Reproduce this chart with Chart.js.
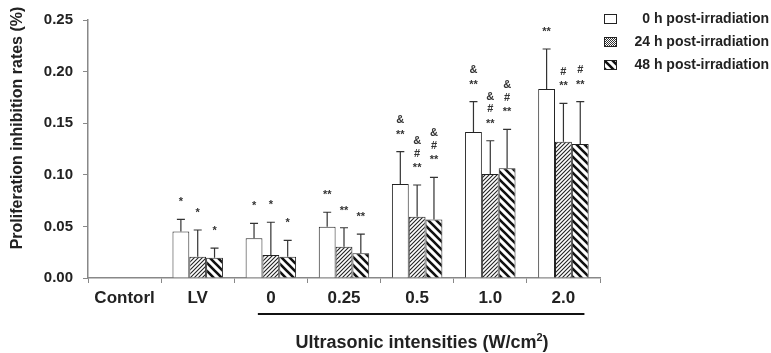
<!DOCTYPE html>
<html>
<head>
<meta charset="utf-8">
<script src="https://cdn.jsdelivr.net/npm/chart.js@4"></script>
<style>
  html, body { margin: 0; padding: 0; background: #fff; }
  #wrap { width: 771px; height: 353px; }
</style>
</head>
<body>
<div id="wrap"><canvas id="prolifChart" width="771" height="353"></canvas></div>
<script>
const categories = ['Contorl', 'LV', '0', '0.25', '0.5', '1.0', '2.0'];
const seriesNames = ['0 h post-irradiation', '24 h post-irradiation', '48 h post-irradiation'];

const mean0h = [null, 0.045, 0.0385, 0.0497, 0.0911, 0.1415, 0.1831];
const mean24h = [null, 0.0207, 0.0223, 0.0303, 0.0594, 0.1008, 0.1320];
const mean48h = [null, 0.0197, 0.0207, 0.0239, 0.0568, 0.1063, 0.1298];

// top of each error bar (mean + SD)
const err0h = [null, 0.0569, 0.0530, 0.0637, 0.1224, 0.1709, 0.2219];
const err24h = [null, 0.0465, 0.0540, 0.0487, 0.0901, 0.1330, 0.1693];
const err48h = [null, 0.0290, 0.0365, 0.0426, 0.0975, 0.1440, 0.1709];

// significance marks, listed top to bottom
const marks0h = [[], ['*'], ['*'], ['**'], ['&', '**'], ['&', '**'], ['**']];
const marks24h = [[], ['*'], ['*'], ['**'], ['&', '#', '**'], ['&', '#', '**'], ['#', '**']];
const marks48h = [[], ['*'], ['*'], ['**'], ['&', '#', '**'], ['&', '#', '**'], ['#', '**']];

const yTicks = [0, 0.05, 0.10, 0.15, 0.20, 0.25];

const FONT = "'Liberation Sans', Arial, sans-serif";

function makePattern(size, drawFn) {
  const c = document.createElement('canvas');
  c.width = size;
  c.height = size;
  const g = c.getContext('2d');
  g.fillStyle = '#fff';
  g.fillRect(0, 0, size, size);
  drawFn(g, size);
  return document.getElementById('prolifChart').getContext('2d').createPattern(c, 'repeat');
}

// fine "/" hatch for 24 h
const fineHatch = makePattern(4, (g, s) => {
  g.strokeStyle = '#222';
  g.lineWidth = 1.1;
  g.beginPath();
  g.moveTo(0, s); g.lineTo(s, 0);
  g.moveTo(-1, 1); g.lineTo(1, -1);
  g.moveTo(s - 1, s + 1); g.lineTo(s + 1, s - 1);
  g.stroke();
});

// wide "\" stripes for 48 h
const wideStripe = makePattern(8, (g, s) => {
  g.strokeStyle = '#111';
  g.lineWidth = 2.6;
  g.beginPath();
  g.moveTo(0, 0); g.lineTo(s, s);
  g.moveTo(-s / 2, s / 2); g.lineTo(s / 2, s * 1.5);
  g.moveTo(s / 2, -s / 2); g.lineTo(s * 1.5, s / 2);
  g.stroke();
});

// crosshatch used for the 24 h legend swatch
const checker = makePattern(2, (g) => {
  g.fillStyle = '#333';
  g.fillRect(0, 0, 1, 1);
  g.fillRect(1, 1, 1, 1);
});

const fills = ['#ffffff', fineHatch, wideStripe];
const legendFills = ['#ffffff', checker, wideStripe];
const errTops = [err0h, err24h, err48h];
const marks = [marks0h, marks24h, marks48h];

const errorBarPlugin = {
  id: 'errorBars',
  afterDatasetsDraw(chart) {
    const ctx = chart.ctx;
    const y = chart.scales.y;
    ctx.save();
    ctx.strokeStyle = '#333';
    ctx.lineWidth = 1.2;
    chart.data.datasets.forEach((ds, i) => {
      const meta = chart.getDatasetMeta(i);
      meta.data.forEach((bar, j) => {
        if (ds.data[j] == null) return;
        const top = y.getPixelForValue(errTops[i][j]);
        const base = y.getPixelForValue(ds.data[j]);
        ctx.beginPath();
        ctx.moveTo(bar.x, base);
        ctx.lineTo(bar.x, top);
        ctx.moveTo(bar.x - 4, top);
        ctx.lineTo(bar.x + 4, top);
        ctx.stroke();

        // significance marks above the error bar
        const lines = marks[i][j];
        ctx.fillStyle = '#333';
        ctx.font = 'bold 11px ' + FONT;
        ctx.textAlign = 'center';
        ctx.textBaseline = 'middle';
        lines.forEach((txt, k) => {
          const fromBottom = lines.length - 1 - k;
          const ty = top - 19 - fromBottom * 12.5 + (txt.indexOf('*') >= 0 ? 2 : 0);
          ctx.fillText(txt, bar.x, ty);
        });
      });
    });
    ctx.restore();
  }
};

const decorPlugin = {
  id: 'decor',
  afterDraw(chart) {
    const ctx = chart.ctx;
    const x = chart.scales.x;
    ctx.save();
    // line under the ultrasonic groups
    const left = x.getPixelForValue(2) - 13;
    const right = x.getPixelForValue(6) + 21;
    ctx.strokeStyle = '#111';
    ctx.lineWidth = 2;
    ctx.beginPath();
    ctx.moveTo(left, 314);
    ctx.lineTo(right, 314);
    ctx.stroke();

    // x axis title with superscript
    ctx.fillStyle = '#222';
    ctx.textBaseline = 'middle';
    const title = 'Ultrasonic intensities (W/cm';
    ctx.font = 'bold 18px ' + FONT;
    const w1 = ctx.measureText(title).width;
    const w3 = ctx.measureText(')').width;
    ctx.font = 'bold 11px ' + FONT;
    const w2 = ctx.measureText('2').width;
    const start = 422 - (w1 + w2 + w3) / 2;
    ctx.textAlign = 'left';
    ctx.font = 'bold 18px ' + FONT;
    ctx.fillText(title, start, 343);
    ctx.fillText(')', start + w1 + w2, 343);
    ctx.font = 'bold 11px ' + FONT;
    ctx.fillText('2', start + w1, 338);

    // y axis title
    ctx.save();
    ctx.translate(18, 128);
    ctx.rotate(-Math.PI / 2);
    ctx.textAlign = 'center';
    ctx.font = 'bold 16px ' + FONT;
    ctx.fillText('Proliferation inhibition rates (%)', 0, 0);
    ctx.restore();

    // legend
    ctx.font = 'bold 14px ' + FONT;
    ctx.textAlign = 'right';
    seriesNames.forEach((name, i) => {
      const ly = 19 + i * 23;
      ctx.fillStyle = legendFills[i];
      ctx.fillRect(604, ly - 4, 12, 9);
      ctx.strokeStyle = '#222';
      ctx.lineWidth = 1;
      ctx.strokeRect(604.5, ly - 4.5, 12, 9);
      ctx.fillStyle = '#222';
      ctx.fillText(name, 769, ly);
    });
    ctx.restore();
  }
};

const datasets = [mean0h, mean24h, mean48h].map((vals, i) => ({
  label: seriesNames[i],
  data: vals,
  backgroundColor: fills[i],
  borderColor: '#222',
  borderWidth: 1,
  borderSkipped: 'bottom',
  categoryPercentage: 0.69,
  barPercentage: 1.0
}));

new Chart(document.getElementById('prolifChart'), {
  type: 'bar',
  data: { labels: categories, datasets: datasets },
  plugins: [errorBarPlugin, decorPlugin],
  options: {
    responsive: false,
    animation: false,
    layout: { padding: { top: 20, right: 171, left: 0, bottom: 0 } },
    plugins: {
      legend: { display: false },
      tooltip: { enabled: false }
    },
    scales: {
      x: {
        afterFit(scale) { scale.height = 75; },
        grid: {
          offset: true,
          drawOnChartArea: false,
          drawTicks: true,
          tickLength: 5,
          color: '#888'
        },
        border: { display: true, color: '#888', width: 1.5 },
        ticks: {
          color: '#222',
          padding: 5,
          font: { family: FONT, size: 17, weight: 'bold' }
        }
      },
      y: {
        min: 0,
        max: 0.25,
        afterFit(scale) { scale.width = 88; },
        afterBuildTicks(scale) {
          scale.ticks = yTicks.map(v => ({ value: v }));
        },
        grid: {
          drawOnChartArea: false,
          drawTicks: true,
          tickLength: 5,
          color: '#888'
        },
        border: { display: true, color: '#888', width: 1.5 },
        ticks: {
          color: '#222',
          padding: 10,
          font: { family: FONT, size: 15, weight: 'bold' },
          callback: (v) => Number(v).toFixed(2)
        }
      }
    }
  }
});
</script>
</body>
</html>
